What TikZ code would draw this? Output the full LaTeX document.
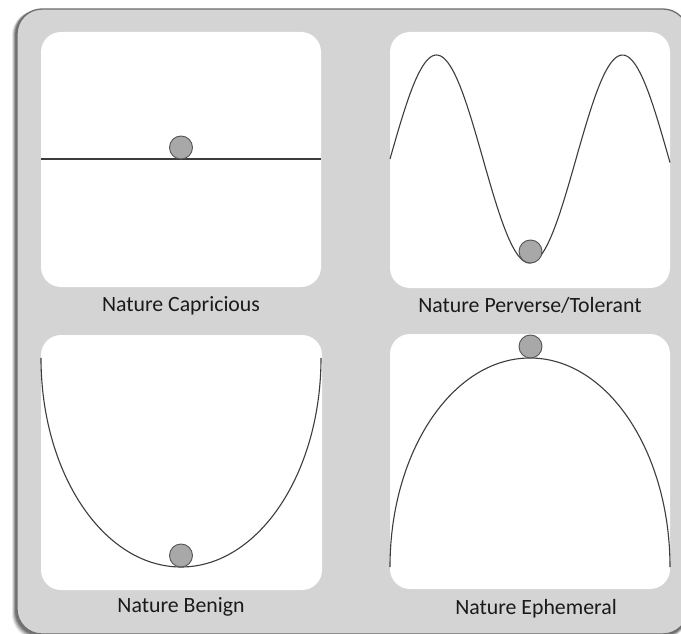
\documentclass[tikz,border=0pt]{standalone}
\usepackage{fontspec}
\setmainfont{Carlito}
\definecolor{framegray}{HTML}{D4D4D4}
\definecolor{frameline}{HTML}{6E6E6E}
\definecolor{curvegray}{HTML}{3C3C3C}
\definecolor{ballfill}{HTML}{A8A8A8}
\definecolor{ballline}{HTML}{555555}
\definecolor{textcol}{HTML}{1A1A1A}
\tikzset{
  x=1pt, y=-1pt,
  panelbox/.style={fill=white, draw=none, rounded corners=20pt},
  curve/.style={draw=curvegray, line width=1.1pt},
  ball/.style={circle, minimum size=23pt, inner sep=0pt, fill=ballfill, draw=ballline, line width=0.9pt},
  caption/.style={font=\fontsize{21.8}{24}\selectfont, text=textcol, inner sep=0pt, anchor=center}
}
\begin{document}
\begin{tikzpicture}
\useasboundingbox (0,0) rectangle (681,634);
\fill[white] (0,0) rectangle (681,634);
% shadow of the frame
\foreach \o/\op in {5/0.10,4/0.15,3/0.2,2/0.25}{
  \fill[black, opacity=\op, rounded corners=25pt] (17-\o,9+\o*0.3) rectangle (688,634+\o);
}
% frame
\draw[fill=framegray, draw=frameline, line width=1.3pt, rounded corners=25pt] (17,9) rectangle (688,634);
% panels
\fill[panelbox] (41,32) rectangle (321,287);
\fill[panelbox] (390,32) rectangle (670,288);
\fill[panelbox] (41,335) rectangle (322,590);
\fill[panelbox] (390,334) rectangle (670,589);
% curves
\draw[curve] (41,159) -- (321,159);
\draw[curve, domain=0:280, samples=140, smooth, variable=\t] plot ({390+\t},{159-104*sin(1.935484*\t)});
\draw[curve] (41,358) arc[start angle=180, end angle=360, x radius=140, y radius=-209];
\draw[curve] (390,567) arc[start angle=180, end angle=0, x radius=140, y radius=-209];
% balls
\node[ball] (ballA) at (181,147.5) {};
\node[ball] (ballB) at (530.5,251.5) {};
\node[ball] (ballC) at (181,555.5) {};
\node[ball] (ballD) at (530.5,346.5) {};
% captions
\node[caption] (capA) at (181,306) {Nature Capricious};
\node[caption] (capB) at (530,305) {Nature Perverse/Tolerant};
\node[caption] (capC) at (181,607) {Nature Benign};
\node[caption] (capD) at (536,609) {Nature Ephemeral};
\end{tikzpicture}
\end{document}
